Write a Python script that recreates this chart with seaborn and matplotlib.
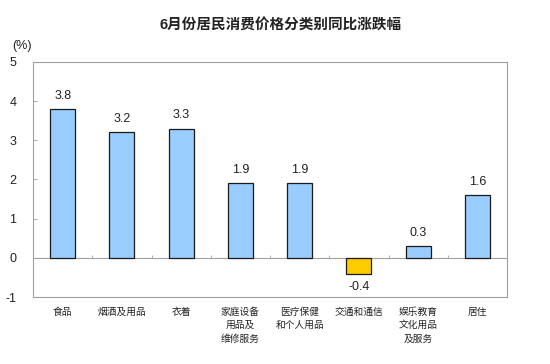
import matplotlib
matplotlib.use("Agg")
import matplotlib.pyplot as plt
import seaborn as sns
import pandas as pd

categories = ["食品", "烟酒及用品", "衣着", "家庭设备\n用品及\n维修服务", "医疗保健\n和个人用品",
              "交通和通信", "娱乐教育\n文化用品\n及服务", "居住"]
values = [3.8, 3.2, 3.3, 1.9, 1.9, -0.4, 0.3, 1.6]
value_labels = ["3.8", "3.2", "3.3", "1.9", "1.9", "-0.4", "0.3", "1.6"]
yticks = [-1, 0, 1, 2, 3, 4, 5]

sns.set_theme(style="white")
plt.rcParams['font.family'] = ['Liberation Sans', 'Noto Sans CJK SC', 'DejaVu Sans']

df = pd.DataFrame({"cat": categories, "val": values})
colors = ["#99CCFF" if v >= 0 else "#FFCC00" for v in values]

fig = plt.figure(figsize=(5.5, 3.64), dpi=100)
ax = fig.add_axes([0.06, 0.184, 0.862, 0.646])
sns.barplot(data=df, x="cat", y="val", hue="cat", palette=colors, legend=False,
            width=0.42, edgecolor="#1a1a1a", linewidth=0.9, saturation=1, ax=ax, zorder=3)

ax.set_ylim(-1, 5)
ax.set_xlim(-0.5, len(categories) - 0.5)
ax.set_yticks(yticks)
ax.set_yticklabels([str(t) for t in yticks], fontsize=9, color="#222222")
ax.tick_params(axis='y', length=3, width=0.6, color="#999999", pad=12, left=True, direction='in')
ax.tick_params(axis='x', length=0, pad=7)
ax.set_xticks(range(len(categories)))
ax.set_xticklabels(categories, fontsize=7, color="#222222", linespacing=1.45, va="top",
                   family=['Noto Sans CJK SC', 'DejaVu Sans'])
ax.set_xlabel("")
ax.set_ylabel("")
for s in ax.spines.values():
    s.set_color("#a0a0a0")
    s.set_linewidth(0.8)

ax.axhline(0, color="#a0a0a0", linewidth=0.8, zorder=2)
ax.vlines([i + 0.5 for i in range(len(categories) - 1)], 0, 0.07, color="#a0a0a0", linewidth=0.6, zorder=2)

for i, (v, lab) in enumerate(zip(values, value_labels)):
    if v >= 0:
        ax.text(i, v + 0.18, lab, ha="center", va="bottom", fontsize=9, color="#222222")
    else:
        ax.text(i, v - 0.18, lab, ha="center", va="top", fontsize=9, color="#222222")

fig.text(0.51, 0.93, "6月份居民消费价格分类别同比涨跌幅", ha="center", va="center",
         fontsize=10.5, fontweight="bold", color="#222222",
         family=['Liberation Sans', 'Noto Sans CJK SC'])
fig.text(0.022, 0.873, "(%)", ha="left", va="center", fontsize=9, color="#222222")

fig.savefig("out.png", dpi=100, facecolor="white")
